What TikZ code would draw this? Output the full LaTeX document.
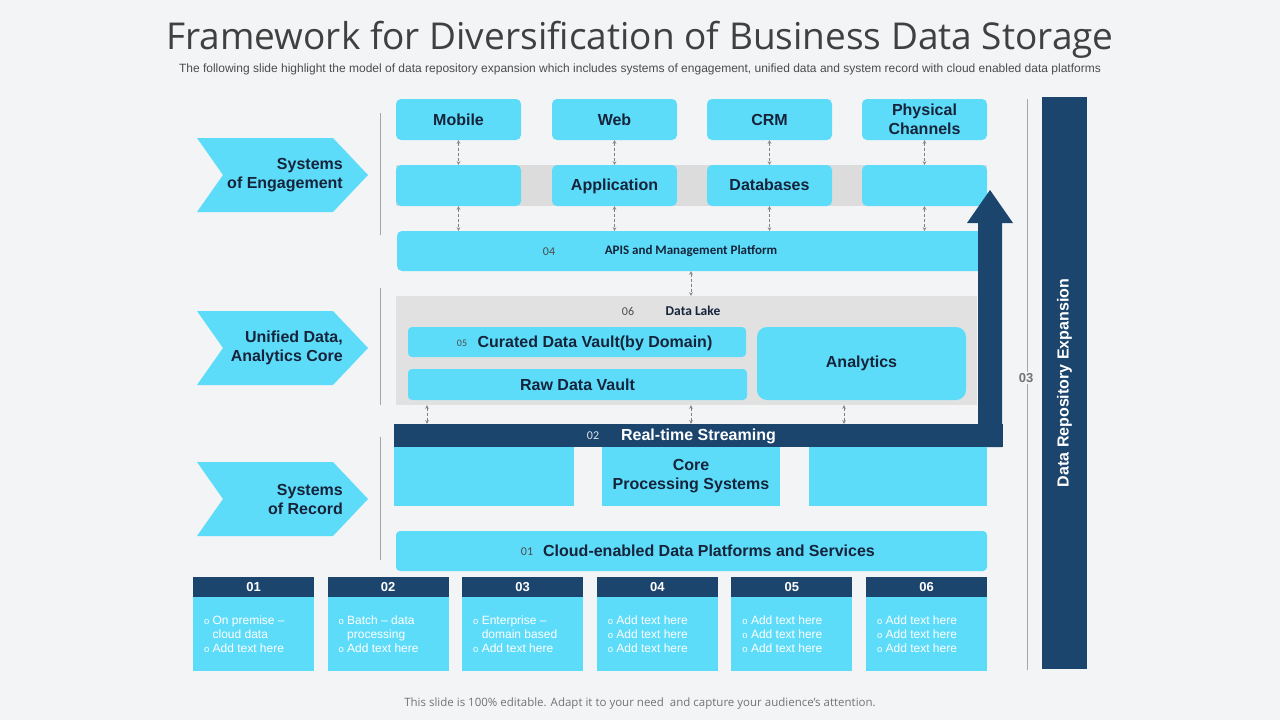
\documentclass[tikz,border=0pt]{standalone}
\usepackage{fontspec}
\setmainfont{Liberation Sans}
\newfontfamily\carlito{Carlito}
\newfontfamily\opensans[Ligatures=NoCommon]{Open Sans}
\usetikzlibrary{arrows,calc}
\definecolor{skyfill}{HTML}{5DDCFA}
\definecolor{navy}{HTML}{1C456E}
\definecolor{ink}{HTML}{15243A}
\definecolor{bandgrey}{HTML}{DCDCDC}
\definecolor{lakegrey}{HTML}{E1E1E1}
\definecolor{bg}{HTML}{F2F4F6}
\newcommand{\lab}{\fontsize{16}{19}\selectfont\bfseries}
\newcommand{\bul}{{\fontsize{9.5}{9.5}\selectfont o}}
\newcommand{\cardtwo}[3]{\bul\ #1\\\phantom{\bul\ }#2\\\bul\ #3}
\newcommand{\cardthree}{\bul\ Add text here\\\bul\ Add text here\\\bul\ Add text here}

\begin{document}
\begin{tikzpicture}[x=1pt,y=-1pt,
  cbox/.style={fill=skyfill,rounded corners=5,inner sep=0,text=ink,font=\lab,align=center},
  sbox/.style={fill=skyfill,inner sep=0,text=ink,font=\lab,align=center},
  one/.style={text height=11.5,text depth=1.5},
  num/.style={font=\carlito\fontsize{12}{12}\selectfont,text=black!70},
  dbl/.style={<->,>=stealth,densely dashed,gray,line width=0.6pt},
  side/.style={gray!70,line width=0.6pt}]

  \fill[bg] (0,0) rectangle (1280,720);
  \useasboundingbox (0,0) rectangle (1280,720);

  % heading
  \node[font=\opensans\fontsize{37}{37}\selectfont,text=black!75] (title) at (640,40) {Framework for Diversification of Business Data Storage};
  \node[font=\fontsize{12}{12}\selectfont,text=black!70] (sub) at (640,69) {The following slide highlight the model of data repository expansion which includes systems of engagement, unified data and system record with cloud enabled data platforms};
  \node[font=\opensans\fontsize{11.5}{11.5}\selectfont,text=black!55] (foot) at (640,704) {This slide is 100\% editable. Adapt it to your need\ \ and capture your audience’s attention.};

  % chevrons on the left
  \foreach \y/\nm/\txt in {175/eng/{Systems\\of Engagement},348/uni/{Unified Data,\\Analytics Core},499/rec/{Systems\\of Record}} {
    \fill[skyfill] (197,\y-37) -- (333,\y-37) -- (368,\y) -- (333,\y+37) -- (197,\y+37) -- (223,\y) -- cycle;
    \node[anchor=east,align=right,inner sep=0,font=\lab,text=ink] (\nm) at (343,\y) {\txt};
  }
  \draw[side] (380,113) -- (380,235);
  \draw[side] (380,288) -- (380,405);
  \draw[side] (380,437) -- (380,560);

  % systems of engagement
  \fill[bandgrey] (396,165) rectangle (987,206);
  \foreach \x/\nm/\txt in {458.5/mobile/Mobile,614.5/web/Web,769.5/crm/CRM,924.5/phys/{Physical\\Channels}}
    \node[cbox,minimum width=125,minimum height=41] (\nm) at (\x,119.5) {\txt};
  \foreach \x/\nm/\txt in {458.5/blankA/{},614.5/app/Application,769.5/db/Databases,924.5/blankB/{}}
    \node[cbox,one,minimum width=125,minimum height=41] (\nm) at (\x,185.5) {\txt};
  \node[cbox,minimum width=588,minimum height=40,font=\carlito\bfseries\fontsize{13}{13}\selectfont] (apis) at (691,251) {APIS and Management Platform};
  \node[num] (apisnum) at (549,252) {04};

  % unified data
  \node[fill=lakegrey,inner sep=0,minimum width=581,minimum height=109] (lake) at (686.5,350.5) {};
  \node[num] (lakenum) at (628,311) {06};
  \node[font=\carlito\bfseries\fontsize{13.5}{13.5}\selectfont,text=ink] (laketxt) at (693,311) {Data Lake};
  \node[cbox,rounded corners=4,minimum width=338,minimum height=30] (cur) at (577,342) {};
  \node[one,font=\lab,text=ink] (curtxt) at (595,342) {Curated Data Vault(by Domain)};
  \node[num,font=\carlito\fontsize{10}{10}\selectfont] (curnum) at (462,343) {05};
  \node[cbox,rounded corners=4,minimum width=339,minimum height=31] (raw) at (577.5,384.5) {Raw Data Vault};
  \node[cbox,rounded corners=10,minimum width=209,minimum height=73] (ana) at (861.5,363.5) {Analytics};

  % streaming and systems of record
  \node[fill=navy,inner sep=0,one,minimum width=609,minimum height=23,text=white,font=\lab] (stream) at (698.5,435.5) {Real-time Streaming};
  \node[font=\carlito\fontsize{12}{12}\selectfont,text=white!85!navy] (streamnum) at (593,436) {02};
  \fill[navy] (978,447) -- (978,223) -- (967,223) -- (990,190) -- (1013,223) -- (1002,223) -- (1002,447) -- cycle;
  \foreach \x/\w/\nm/\txt in {484/180/recA/{},691/178/core/{Core\\Processing Systems},898/178/recB/{}}
    \node[sbox,minimum width=\w,minimum height=59] (\nm) at (\x,476.5) {\txt};
  \node[cbox,rounded corners=4,minimum width=591,minimum height=40] (cloud) at (691.5,551) {};
  \node[one,font=\lab,text=ink] (cloudtxt) at (709,551) {Cloud-enabled Data Platforms and Services};
  \node[num] (cloudnum) at (527,552) {01};

  % dashed links
  \foreach \a/\b in {mobile/blankA,web/app,crm/db,phys/blankB} {
    \draw[dbl] (\a) -- (\b);
    \draw[dbl] (\b) -- (\b |- apis.north);
  }
  \draw[dbl] (apis.south) -- (apis.south |- lake.north);
  \foreach \x in {427,691,844}
    \draw[dbl] (\x,0 |- lake.south) -- (\x,0 |- stream.north);

  % cards
  \foreach \i/\t in {1/{\cardtwo{On premise –}{cloud data}{Add text here}},2/{\cardtwo{Batch – data}{processing}{Add text here}},3/{\cardtwo{Enterprise –}{domain based}{Add text here}},4/{\cardthree},5/{\cardthree},6/{\cardthree}} {
    \pgfmathsetmacro\cx{253.5+134.6*(\i-1)}
    \node[fill=navy,minimum width=121,minimum height=20,inner sep=0,text=white,font=\bfseries\fontsize{13}{13}\selectfont] (head\i) at (\cx,587) {0\i};
    \node[fill=skyfill,minimum width=121,minimum height=74,inner sep=0,anchor=north] (card\i) at (head\i.south) {};
    \node[anchor=north west,inner sep=0,align=left,text=white,font=\fontsize{12}{14}\selectfont] (cardtxt\i) at ([xshift=11,yshift=-18]card\i.north west) {\t};
  }

  % data repository expansion
  \draw[side] (1027,99) -- (1027,670);
  \node[fill=bg,inner sep=1,font=\bfseries\fontsize{13}{13}\selectfont,text=black!55] (n03) at (1026,378) {03};
  \node[fill=navy,minimum width=45,minimum height=572,inner sep=0] (expand) at (1064.5,383) {};
  \node[rotate=90,text=white,font=\bfseries\fontsize{16}{16}\selectfont] (expandtxt) at (expand) {Data Repository Expansion};
\end{tikzpicture}
\end{document}
